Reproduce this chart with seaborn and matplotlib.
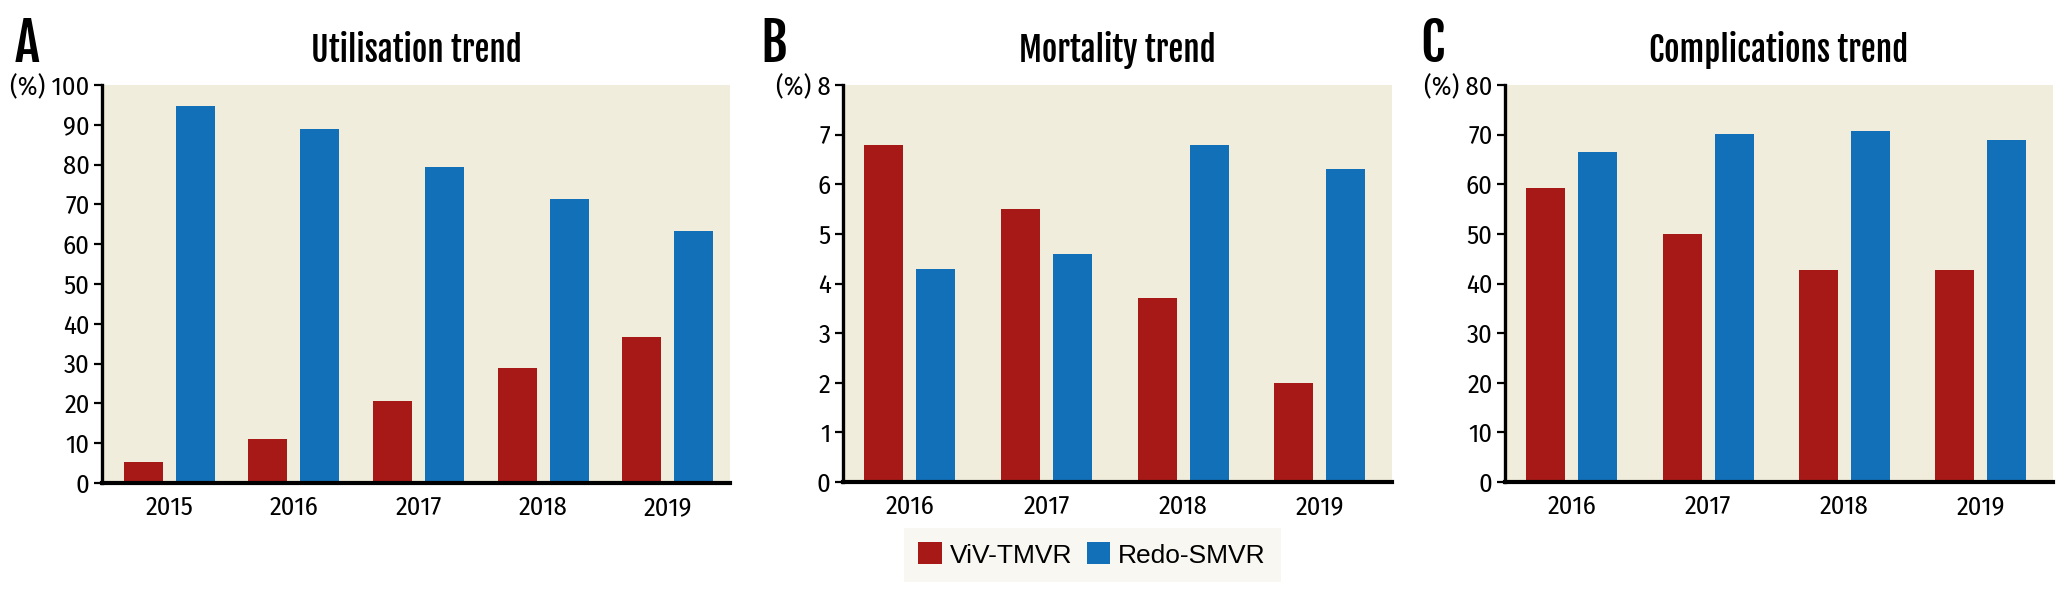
import matplotlib
matplotlib.use("Agg")
import matplotlib.pyplot as plt
import seaborn as sns
import pandas as pd
from matplotlib.patches import Patch
from matplotlib import font_manager as fm

# ---------------- data ----------------
series_names = ["ViV-TMVR", "Redo-SMVR"]

years_util = ["2015", "2016", "2017", "2018", "2019"]
util_viv = [5.3, 11.1, 20.6, 28.9, 36.8]
util_redo = [94.8, 88.9, 79.4, 71.3, 63.3]

years_out = ["2016", "2017", "2018", "2019"]
mort_viv = [6.8, 5.5, 3.7, 2.0]
mort_redo = [4.3, 4.6, 6.8, 6.3]

comp_viv = [59.3, 50.0, 42.8, 42.8]
comp_redo = [66.5, 70.2, 70.8, 68.9]

titles = ["Utilisation trend", "Mortality trend", "Complications trend"]
panel_letters = ["A", "B", "C"]

util_ticks = [0, 10, 20, 30, 40, 50, 60, 70, 80, 90, 100]
mort_ticks = [0, 1, 2, 3, 4, 5, 6, 7, 8]
comp_ticks = [0, 10, 20, 30, 40, 50, 60, 70, 80]
unit_label = "(%)"

# ---------------- style ----------------
RED = "#A61916"
BLUE = "#1170B8"
BG = "#F0EDDC"
LEGEND_BG = "#F8F7F1"

available = {f.name for f in fm.fontManager.ttflist}

def pick(*cands):
    for c in cands:
        if c in available:
            return c
    return "DejaVu Sans"

tick_font = pick("Fira Sans Condensed", "Fira Sans Extra Condensed", "Liberation Sans Narrow")
title_font = pick("Fjalla One", "Fira Sans Extra Condensed")
legend_font = pick("Liberation Sans", "Arimo", "DejaVu Sans")

sns.set_theme(style="white")
plt.rcParams["font.family"] = [tick_font, "DejaVu Sans"]
plt.rcParams["text.color"] = "black"
plt.rcParams["xtick.color"] = "black"
plt.rcParams["ytick.color"] = "black"

W, H = 2068, 598
fig = plt.figure(figsize=(W / 100, H / 100), dpi=100)

def frac_x(px):
    return px / W

def frac_y(px):
    return 1 - px / H

# axes geometry in pixels: left, right, top, bottom
geoms = [(102, 730, 85, 483), (843, 1392, 85, 482), (1505, 2053, 85, 482)]
xlims = [(-0.54, 4.5), (-0.49, 3.53), (-0.49, 3.53)]
widths = [0.836, 0.762, 0.762]

datasets = [
    (years_util, util_viv, util_redo, util_ticks),
    (years_out, mort_viv, mort_redo, mort_ticks),
    (years_out, comp_viv, comp_redo, comp_ticks),
]
letter_x = [15, 760, 1420]

palette = {series_names[0]: RED, series_names[1]: BLUE}

for i, ((years, viv, redo, ticks), (l, r, t, b)) in enumerate(zip(datasets, geoms)):
    ax = fig.add_axes([frac_x(l), frac_y(b), frac_x(r - l), (b - t) / H])
    df = pd.DataFrame({
        "Year": years * 2,
        "Value": list(viv) + list(redo),
        "Procedure": [series_names[0]] * len(years) + [series_names[1]] * len(years),
    })
    sns.barplot(data=df, x="Year", y="Value", hue="Procedure", palette=palette,
                hue_order=series_names, order=years, width=widths[i], gap=0.25,
                saturation=1, errorbar=None, linewidth=0, legend=False, ax=ax)
    ax.set_facecolor(BG)
    ax.set_xlim(*xlims[i])
    ax.set_ylim(0, ticks[-1])
    ax.set_yticks(ticks)
    labels = [str(v) for v in ticks]
    labels[-1] = f"{unit_label} {ticks[-1]}"
    ax.set_yticklabels(labels)
    ax.set_xlabel("")
    ax.set_ylabel("")
    for s in ["top", "right"]:
        ax.spines[s].set_visible(False)
    ax.spines["left"].set_linewidth(2.4)
    ax.spines["bottom"].set_linewidth(3.0)
    ax.spines["left"].set_color("black")
    ax.spines["bottom"].set_color("black")
    ax.tick_params(axis="y", length=6, width=1.6, color="black", pad=3,
                   labelsize=19, labelcolor="black", direction="out", left=True)
    ax.tick_params(axis="x", length=0, pad=9, labelsize=19, labelcolor="black")
    for lab in ax.get_yticklabels() + ax.get_xticklabels():
        lab.set_fontweight("normal")

    cx = (l + r) / 2
    fig.text(frac_x(cx), frac_y(62), titles[i], ha="center", va="baseline",
             fontsize=24, family=[title_font, "DejaVu Sans"], color="black")
    fig.text(frac_x(letter_x[i]), frac_y(62), panel_letters[i], ha="left", va="baseline",
             fontsize=38, family=[title_font, "DejaVu Sans"], color="black")

handles = [Patch(facecolor=palette[n], edgecolor="none", label=n) for n in series_names]
leg = fig.legend(handles=handles, loc="center", bbox_to_anchor=(frac_x(1092), frac_y(555)),
                 ncol=2, frameon=True, fancybox=False, facecolor=LEGEND_BG, edgecolor="none",
                 framealpha=1, prop={"family": legend_font, "size": 19},
                 handlelength=0.9, handleheight=0.9, handletextpad=0.3,
                 columnspacing=0.55, borderpad=0.55)

fig.savefig("out.png", dpi=100)
